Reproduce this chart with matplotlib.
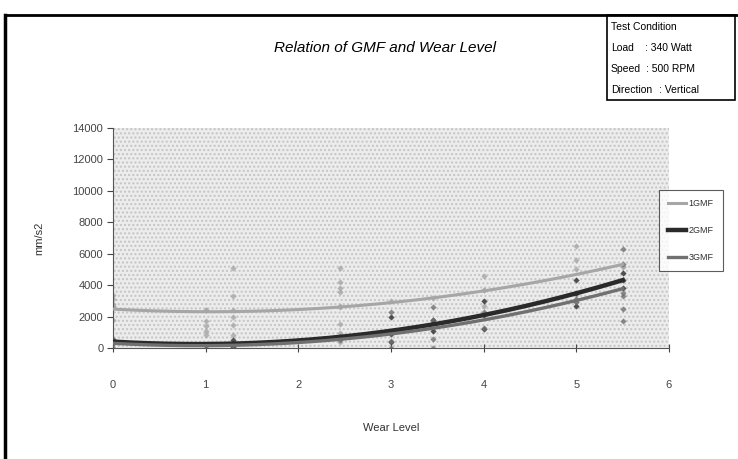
import numpy as np
import matplotlib
matplotlib.use("Agg")
import matplotlib.pyplot as plt
from matplotlib.patches import Rectangle
from matplotlib.lines import Line2D

plt.rcParams["font.family"] = ["Liberation Sans", "DejaVu Sans"]

# scatter readings (wear level, mm/s2) per series, some sit under the trend lines
x_1gmf = [0, 0, 0, 0, 0, 0,
          1, 1, 1, 1, 1, 1,
          1.3, 1.3, 1.3, 1.3, 1.3, 1.3,
          2.45, 2.45, 2.45, 2.45, 2.45, 2.45, 2.45, 2.45, 2.45,
          3, 3.45,
          4, 4, 4, 4,
          5, 5, 5, 5, 5,
          5.5, 5.5]
y_1gmf = [3400, 3100, 2800, 1800, 2650, 2650,
          1700, 1400, 1100, 800, 2450, 2450,
          5100, 3300, 2000, 1450, 800, 2400,
          5100, 4200, 3800, 3550, 2700, 1500, 950, 2600, 380,
          3000, 3200,
          4600, 3700, 2700, 3700,
          6500, 5600, 5000, 3350, 2935,
          5200, 5150]

x_2gmf = [0, 0, 1, 1.3, 1.3, 2.45, 3, 3, 3, 3.45, 3.45, 3.45,
          4, 4, 4, 5, 5, 5, 5.5, 5.5, 5.5]
y_2gmf = [500, 340, 200, 500, 80, 700, 2000, 400, 900, 1800, 1600, 1110,
          3000, 2100, 1200, 4300, 3480, 2670, 4800, 4300, 3850]

x_3gmf = [0, 0, 1, 1.3, 2.45, 3, 3, 3, 3.45, 3.45, 3.45, 3.45,
          4, 4, 5, 5, 5.5, 5.5, 5.5, 5.5, 5.5, 5.5]
y_3gmf = [600, 0, 145, 170, 540, 2300, 0, 450, 2600, 600, 0, 1780,
          1300, 2260, 3100, 2950, 6300, 3500, 3300, 2500, 1700, 5370]

series = [
    ("1GMF", x_1gmf, y_1gmf, "#a6a6a6", 2.2),
    ("2GMF", x_2gmf, y_2gmf, "#2a2a2a", 3.2),
    ("3GMF", x_3gmf, y_3gmf, "#707070", 2.4),
]

fig = plt.figure(figsize=(7.38, 4.59), dpi=100)
ax = fig.add_axes([0.1531, 0.2418, 0.7534, 0.4793])

# stippled plot area
ax.set_facecolor("#ececec")
ax.add_patch(Rectangle((0, 0), 1, 1, transform=ax.transAxes, facecolor="none",
                       edgecolor="#c4c4c4", hatch="....", linewidth=0, zorder=0))

xs = np.linspace(0, 5.5, 200)
handles = []
for name, x, y, col, lw in series:
    ax.scatter(x, y, s=10, marker="D", color=col, alpha=0.8, zorder=2, linewidths=0)
    coef = np.polyfit(x, y, 2)  # excel style 2nd order trendline
    ax.plot(xs, np.polyval(coef, xs), color=col, lw=lw, zorder=3)
    handles.append(Line2D([], [], color=col, lw=lw))

ax.set_xlim(0, 6)
ax.set_ylim(0, 14000)
ax.set_xticks(range(7))
ax.set_yticks(range(0, 14001, 2000))
for s in ["top", "right"]:
    ax.spines[s].set_visible(False)
for s in ["left", "bottom"]:
    ax.spines[s].set_color("#555555")
ax.tick_params(axis="x", direction="inout", length=6, pad=20, labelsize=8, colors="#444444")
ax.tick_params(axis="y", direction="out", length=4, pad=3, labelsize=8, colors="#444444")
ax.set_xlabel("Wear Level", fontsize=8, color="#333333", labelpad=24)
ax.set_ylabel("mm/s2", fontsize=8, color="#333333", labelpad=20)

fig.text(385 / 738, 1 - 48 / 459, "Relation of GMF and Wear Level", fontsize=11,
         style="italic", ha="center", va="center")

leg = ax.legend(handles, ["1GMF", "2GMF", "3GMF"], loc="upper left",
                bbox_to_anchor=(659 / 738, 1 - 190 / 459), bbox_transform=fig.transFigure,
                fontsize=6.5, frameon=True, fancybox=False, handlelength=2.0,
                handletextpad=0.3, labelspacing=2.0, borderpad=1.0, borderaxespad=0)
leg.get_frame().set_edgecolor("#333333")
leg.get_frame().set_linewidth(0.8)
for t in leg.get_texts():
    t.set_color("#333333")

# outer chart frame and test condition box
fig.add_artist(Line2D([5 / 738, 5 / 738], [0, 1 - 15 / 459], transform=fig.transFigure,
                      color="black", lw=2.5))
fig.add_artist(Line2D([5 / 738, 1], [1 - 15 / 459, 1 - 15 / 459], transform=fig.transFigure,
                      color="black", lw=2.0))
fig.add_artist(Rectangle((607 / 738, 1 - 100 / 459), 128 / 738, 85 / 459,
                         transform=fig.transFigure, facecolor="white", edgecolor="black", lw=1.2))
cond_keys = ["Test Condition", "Load", "Speed", "Direction"]
cond_vals = ["", ": 340 Watt", ": 500 RPM", ": Vertical"]
val_x = [0, 645, 646, 659]
for i, (k, v) in enumerate(zip(cond_keys, cond_vals)):
    yy = 1 - (27 + i * 21) / 459
    fig.text(611 / 738, yy, k, fontsize=7.5, va="center", ha="left")
    if v:
        fig.text(val_x[i] / 738, yy, v, fontsize=7.5, va="center", ha="left")

fig.savefig("out.png", dpi=100)
